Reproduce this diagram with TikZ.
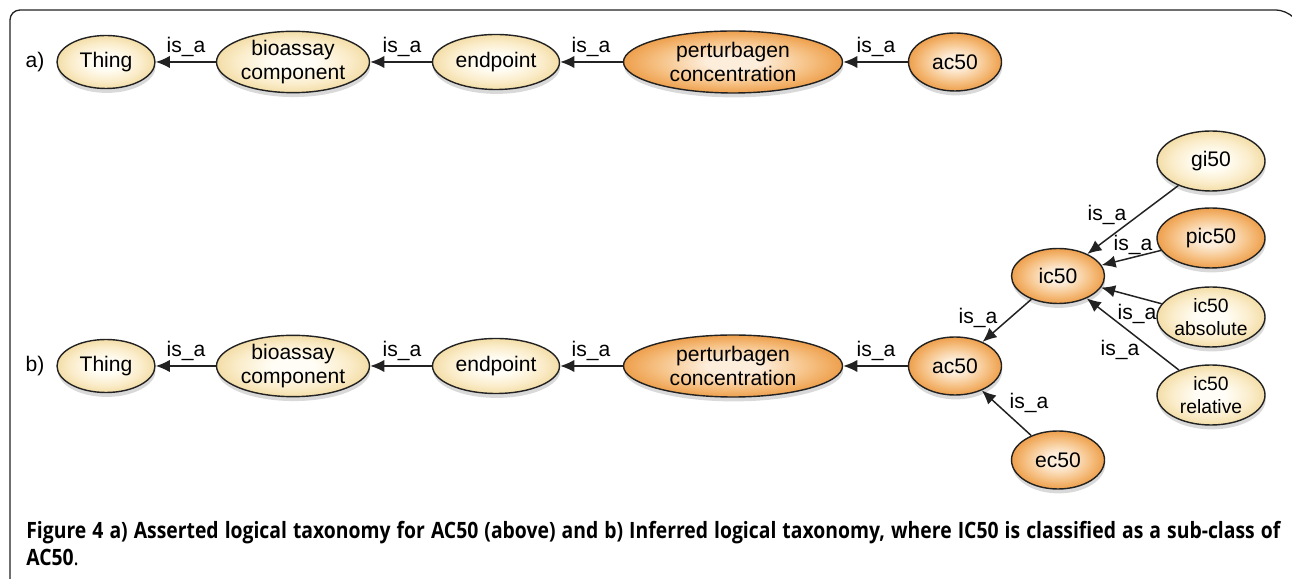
\documentclass[tikz,border=0pt]{standalone}
\usepackage{fontspec}
\setmainfont{Liberation Sans}
\newfontfamily\capfont[FakeStretch=0.86]{Open Sans}
\usetikzlibrary{arrows.meta,shapes.geometric,shadows}
\definecolor{creamin}{HTML}{FFFDF5}
\definecolor{creammid}{HTML}{FBEDCB}
\definecolor{creamout}{HTML}{F1D99E}
\definecolor{orangein}{HTML}{FDEEDC}
\definecolor{orangemid}{HTML}{F6C286}
\definecolor{orangeout}{HTML}{EC973E}
\definecolor{rim}{HTML}{222222}
\pgfdeclareradialshading{creamshade}{\pgfpointorigin}{color(0bp)=(creamin); color(7bp)=(creamin); color(18bp)=(creammid); color(27bp)=(creamout); color(50bp)=(creamout)}
\pgfdeclareradialshading{orangeshade}{\pgfpointorigin}{color(0bp)=(orangein); color(6bp)=(orangein); color(17bp)=(orangemid); color(27bp)=(orangeout); color(50bp)=(orangeout)}
\tikzset{
    vertex/.style={ellipse,draw=rim,thick,inner sep=0pt,minimum width=1.9cm,minimum height=1.12cm,
        align=center,font=\fontsize{12}{13.5}\selectfont,shading=creamshade,
        drop shadow={opacity=0.3,shadow xshift=0.4pt,shadow yshift=-2.5pt}},
    hotvertex/.style={vertex,shading=orangeshade},
    edge/.style={-{Latex[length=8pt,width=7pt]},line width=0.85pt,draw=rim},
    rel/.style={font=\fontsize{12}{13.5}\selectfont,inner sep=0pt}
}

\begin{document}
\begin{tikzpicture}
\useasboundingbox (0,0) rectangle (25.84,11.58);

% Khung ngoai
\draw[rim,line width=0.75pt,rounded corners=0.2cm] (0.2,0) -- (0.2,11.38) -- (25.72,11.38) -- (25.84,11.26);

% Hang a)
\node[rel] (ta) at (0.70,10.34) {a)};
\node[vertex,minimum width=1.96cm,minimum height=1.06cm] (thinga) at (2.12,10.34) {Thing};
\node[vertex,minimum width=3.06cm,minimum height=1.2cm] (bioa) at (5.86,10.34) {bioassay\\component};
\node[vertex,minimum width=2.54cm,minimum height=1.1cm] (enda) at (9.92,10.34) {endpoint};
\node[hotvertex,minimum width=4.38cm,minimum height=1.24cm] (perta) at (14.66,10.34) {perturbagen\\concentration};
\node[hotvertex,minimum width=1.86cm,minimum height=1.16cm] (aca) at (19.10,10.34) {ac50};

\draw[edge] (bioa) to (thinga);
\draw[edge] (enda) to (bioa);
\draw[edge] (perta) to (enda);
\draw[edge] (aca) to (perta);

\node[rel] (la1) at (3.72,10.64) {is\_a};
\node[rel] (la2) at (8.04,10.64) {is\_a};
\node[rel] (la3) at (11.82,10.64) {is\_a};
\node[rel] (la4) at (17.52,10.64) {is\_a};

% Hang b)
\node[rel] (tb) at (0.70,4.26) {b)};
\node[vertex,minimum width=1.96cm,minimum height=1.06cm] (thingb) at (2.12,4.26) {Thing};
\node[vertex,minimum width=3.06cm,minimum height=1.2cm] (biob) at (5.86,4.26) {bioassay\\component};
\node[vertex,minimum width=2.54cm,minimum height=1.1cm] (endb) at (9.92,4.26) {endpoint};
\node[hotvertex,minimum width=4.38cm,minimum height=1.24cm] (pertb) at (14.66,4.26) {perturbagen\\concentration};
\node[hotvertex,minimum width=1.86cm,minimum height=1.16cm] (acb) at (19.10,4.26) {ac50};

% Nhanh ic50 va ec50
\node[hotvertex,minimum width=1.86cm,minimum height=1.1cm] (ic) at (21.16,6.06) {ic50};
\node[hotvertex,minimum width=1.86cm,minimum height=1.16cm] (ec) at (21.16,2.38) {ec50};
\node[vertex,minimum width=2.16cm,minimum height=1.2cm] (gi) at (24.22,8.36) {gi50};
\node[hotvertex,minimum width=2.16cm,minimum height=1.2cm] (pic) at (24.22,6.82) {pic50};
\node[vertex,minimum width=2.16cm,minimum height=1.2cm,font=\fontsize{11}{13}\selectfont] (abs) at (24.22,5.24) {ic50\\absolute};
\node[vertex,minimum width=2.16cm,minimum height=1.2cm,font=\fontsize{11}{13}\selectfont] (rel) at (24.22,3.68) {ic50\\relative};

\draw[edge] (biob) to (thingb);
\draw[edge] (endb) to (biob);
\draw[edge] (pertb) to (endb);
\draw[edge] (acb) to (pertb);
\draw[edge] (ic) to (acb);
\draw[edge] (ec) to (acb);
\draw[edge] (gi) to (ic);
\draw[edge] (pic) to (ic);
\draw[edge] (abs) to (ic);
\draw[edge] (rel) to (ic);

\node[rel] (lb1) at (3.72,4.56) {is\_a};
\node[rel] (lb2) at (8.04,4.56) {is\_a};
\node[rel] (lb3) at (11.82,4.56) {is\_a};
\node[rel] (lb4) at (17.52,4.56) {is\_a};
\node[rel] (lb5) at (19.56,5.22) {is\_a};
\node[rel] (lb6) at (20.58,3.52) {is\_a};
\node[rel] (lb7) at (22.14,7.28) {is\_a};
\node[rel] (lb8) at (22.66,6.68) {is\_a};
\node[rel] (lb9) at (22.74,5.30) {is\_a};
\node[rel] (lb10) at (22.40,4.58) {is\_a};

% Chu thich hinh
\node[anchor=north west,text width=25.08cm,align=justify,inner sep=0pt,
    font=\capfont\fontsize{12.8}{15.3}\selectfont] (cap) at (0.52,1.16)
    {\textbf{Figure 4 a) Asserted logical taxonomy for AC50 (above) and b) Inferred logical taxonomy, where IC50 is classified as a sub-class of\linebreak AC50}.};
\end{tikzpicture}
\end{document}
